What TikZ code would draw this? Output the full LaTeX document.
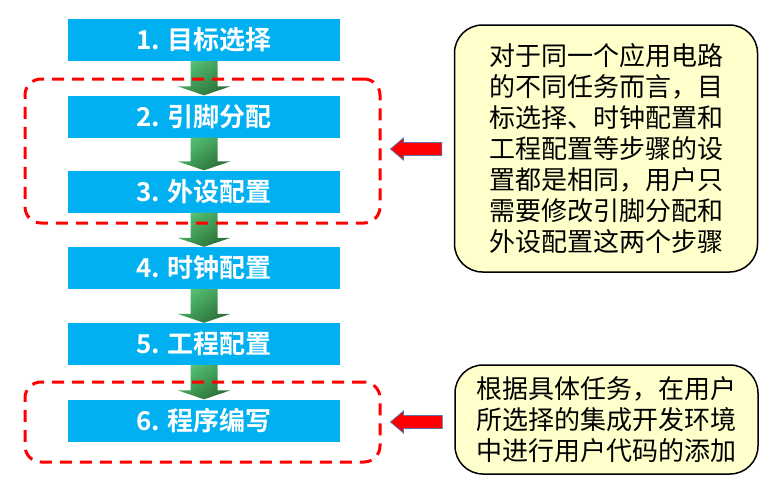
\documentclass[tikz,border=0pt]{standalone}
\usepackage{fontspec}
\setmainfont{Noto Sans CJK SC}
\newfontfamily\stepfont{Noto Sans CJK SC Bold}
\usetikzlibrary{calc}
\definecolor{stepblue}{HTML}{00B0F0}
\definecolor{notefill}{HTML}{FFFFCC}
\definecolor{arrowlight}{HTML}{55C274}
\definecolor{arrowdark}{HTML}{2A6E36}
\definecolor{rimblue}{HTML}{5A74A8}
\tikzset{
  stepbox/.style={fill=stepblue, text=white, minimum width=272pt, minimum height=42pt, inner sep=0pt, font=\stepfont\fontsize{26}{30}\selectfont},
  groupbox/.style={draw=red, line width=3pt, dash pattern=on 12pt off 8pt, rounded corners=16pt, minimum width=355pt, inner sep=0pt},
  notebox/.style={draw=black, line width=1.5pt, fill=notefill, rounded corners=28pt, minimum width=303pt, inner sep=0pt, align=center, font=\fontsize{26}{31}\selectfont},
  downarrow/.style={top color=arrowlight, bottom color=arrowdark, shading angle=35},
  leftarrow/.style={fill=red, draw=rimblue, line width=0.8pt}
}

\begin{document}
\begin{tikzpicture}[x=1pt,y=-1pt]
\useasboundingbox (0,0) rectangle (766,482);

\node[stepbox] (s1) at (204,40) {1. 目标选择};
\node[stepbox] (s2) at (204,116.5) {2. 引脚分配};
\node[stepbox] (s3) at (204,191.5) {3. 外设配置};
\node[stepbox] (s4) at (204,268) {4. 时钟配置};
\node[stepbox] (s5) at (204,344) {5. 工程配置};
\node[stepbox] (s6) at (204,420.5) {6. 程序编写};

\shade[downarrow] ($(s1.south)+(-13.5,0)$) -- ($(s1.south)+(13.5,0)$) -- ($(s2.north)+(13.5,-9)$) -- ($(s2.north)+(26.5,-9)$) -- (s2.north) -- ($(s2.north)+(-26.5,-9)$) -- ($(s2.north)+(-13.5,-9)$) -- cycle;
\shade[downarrow] ($(s2.south)+(-13.5,0)$) -- ($(s2.south)+(13.5,0)$) -- ($(s3.north)+(13.5,-9)$) -- ($(s3.north)+(26.5,-9)$) -- (s3.north) -- ($(s3.north)+(-26.5,-9)$) -- ($(s3.north)+(-13.5,-9)$) -- cycle;
\shade[downarrow] ($(s3.south)+(-13.5,0)$) -- ($(s3.south)+(13.5,0)$) -- ($(s4.north)+(13.5,-9)$) -- ($(s4.north)+(26.5,-9)$) -- (s4.north) -- ($(s4.north)+(-26.5,-9)$) -- ($(s4.north)+(-13.5,-9)$) -- cycle;
\shade[downarrow] ($(s4.south)+(-13.5,0)$) -- ($(s4.south)+(13.5,0)$) -- ($(s5.north)+(13.5,-9)$) -- ($(s5.north)+(26.5,-9)$) -- (s5.north) -- ($(s5.north)+(-26.5,-9)$) -- ($(s5.north)+(-13.5,-9)$) -- cycle;
\shade[downarrow] ($(s5.south)+(-13.5,0)$) -- ($(s5.south)+(13.5,0)$) -- ($(s6.north)+(13.5,-9)$) -- ($(s6.north)+(26.5,-9)$) -- (s6.north) -- ($(s6.north)+(-26.5,-9)$) -- ($(s6.north)+(-13.5,-9)$) -- cycle;

\node[groupbox, minimum height=144pt] (grp1) at (202.5,151) {};
\node[groupbox, minimum height=80pt] (grp2) at (202.5,422) {};

\node[notebox, minimum height=247pt] (note1) at (606,148.5) {对于同一个应用电路\\的不同任务而言，目\\标选择、时钟配置和\\工程配置等步骤的设\\置都是相同，用户只\\需要修改引脚分配和\\外设配置这两个步骤};
\node[notebox, minimum height=109pt] (note2) at (606.5,419.5) {根据具体任务，在用户\\所选择的集成开发环境\\中进行用户代码的添加};

\coordinate (t1) at ($(grp1.east)+(9,-2)$);
\coordinate (e1) at ($(note1.west)+(-12,0)$);
\filldraw[leftarrow] (t1) -- ++(13,-11) -- ++(0,4.5) -- ($(t1 -| e1)+(0,-6.5)$) -- ++(0,13) -- ($(t1)+(13,6.5)$) -- ++(0,4.5) -- cycle;
\coordinate (t2) at ($(grp2.east)+(9,0)$);
\coordinate (e2) at ($(note2.west)+(-12,0)$);
\filldraw[leftarrow] (t2) -- ++(13,-11) -- ++(0,4.5) -- ($(t2 -| e2)+(0,-6.5)$) -- ++(0,13) -- ($(t2)+(13,6.5)$) -- ++(0,4.5) -- cycle;

\end{tikzpicture}
\end{document}
